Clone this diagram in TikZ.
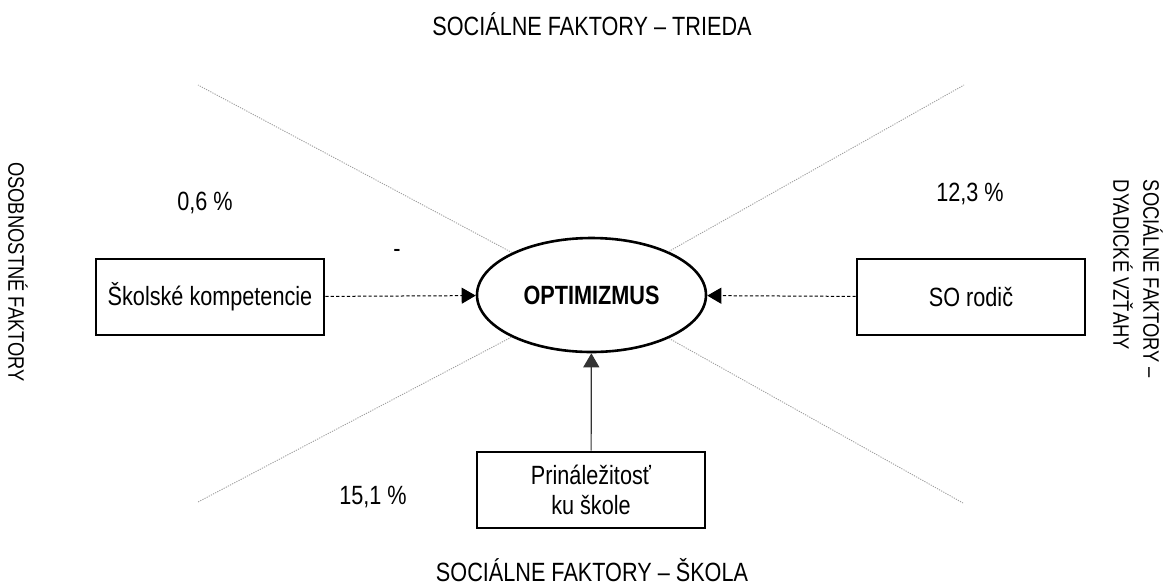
\documentclass[tikz,border=0pt]{standalone}
\usepackage{fontspec}
\setmainfont[FakeStretch=0.82]{Liberation Sans}
\usetikzlibrary{shapes.geometric,arrows.meta}

\tikzset{
  lbl/.style={inner sep=0pt, font=\fontsize{13.2}{15}\selectfont},
  sidelbl/.style={inner sep=0pt, align=left, rotate=-90, font=\fontsize{11.2}{15}\selectfont},
  factor/.style={draw, line width=1.3pt, minimum width=114pt, minimum height=38pt,
                 inner sep=2pt, align=center, font=\fontsize{13.2}{15}\selectfont},
  core/.style={ellipse, draw, line width=1.3pt, minimum width=114.5pt, minimum height=57pt,
               inner sep=0pt, font=\fontsize{13.2}{15}\selectfont\bfseries},
  ray/.style={draw=gray!75, line width=0.45pt, dash pattern=on 0.6pt off 0.6pt},
  dashlink/.style={line width=0.5pt, dash pattern=on 1.6pt off 1.1pt,
                   -{Triangle[length=7pt,width=8pt]}},
  solidlink/.style={line width=0.6pt, draw=black!80, -{Triangle[length=7pt,width=8pt]}}
}

\begin{document}
\begin{tikzpicture}[x=0.5pt, y=-0.5pt]
  \useasboundingbox (0,0) rectangle (1173,585);

  % central construct
  \node[core] (opt) at (591.5,295) {OPTIMIZMUS};

  % predictors
  \node[factor] (skol)  at (210,297)   {Školské kompetencie};
  \node[factor] (rodic) at (971,297)   {SO rodič};
  \node[factor] (prin)  at (591,490)   {Prináležitosť\\ku škole};

  % sector boundaries
  \coordinate (ul) at (198,85);
  \coordinate (ur) at (964,85);
  \coordinate (ll) at (198,502);
  \coordinate (lr) at (963,503);
  \draw[ray] (opt) -- (ul);
  \draw[ray] (opt) -- (ur);
  \draw[ray] (opt) -- (ll);
  \draw[ray] (opt) -- (lr);

  % paths
  \draw[dashlink] (skol) -- (opt);
  \draw[dashlink] (rodic) -- (opt);
  \draw[solidlink] (prin) -- (opt);

  % sector titles
  \node[lbl] (ttop) at (592,24)  {SOCIÁLNE FAKTORY – TRIEDA};
  \node[lbl] (tbot) at (592,570) {SOCIÁLNE FAKTORY – ŠKOLA};
  \node[sidelbl] (tleft)  at (18,272)   {OSOBNOSTNÉ FAKTORY};
  \node[sidelbl] (tright) at (1138,279) {SOCIÁLNE FAKTORY –\\DYADICKÉ VZŤAHY};

  % explained variance
  \node[lbl] (p1) at (205,203) {0,6 \%};
  \node[lbl] (p2) at (970,194) {12,3 \%};
  \node[lbl] (p3) at (373,497) {15,1 \%};
  \node[lbl] (dash) at (397,253) {-};
\end{tikzpicture}
\end{document}
